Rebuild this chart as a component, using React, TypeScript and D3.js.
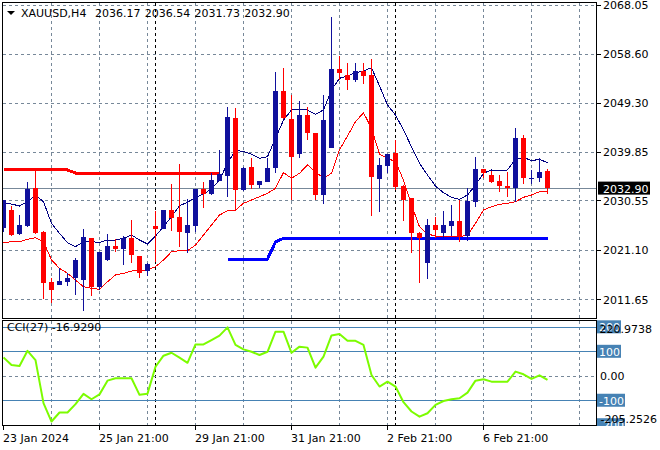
import React from 'react';
import * as d3 from 'd3';

// ---- data (bar index -1 .. 67, H4 bars) ----
const opens = [2025.25, 2028.70, 2024.05, 2025.69, 2032.92, 2024.49, 2014.90, 2014.39, 2014.96, 2015.61, 2015.29, 2023.34, 2014.00, 2019.12, 2021.80, 2021.29, 2023.28, 2019.89, 2017.07, 2025.64, 2025.12, 2028.70, 2027.30, 2024.35, 2025.69, 2032.73, 2031.77, 2034.32, 2035.28, 2046.28, 2032.59, 2036.88, 2033.49, 2034.13, 2036.81, 2051.51, 2046.14, 2039.44, 2046.91, 2043.40, 2031.58, 2040.64, 2055.73, 2054.58, 2053.62, 2055.34, 2054.58, 2034.64, 2037.19, 2039.57, 2033.30, 2031.06, 2024.24, 2018.60, 2025.83, 2024.35, 2025.64, 2026.60, 2023.72, 2030.29, 2036.56, 2035.41, 2034.32, 2033.30, 2032.98, 2042.44, 2034.70, 2034.90, 2036.17];
const highs = [2030.70, 2029.47, 2027.74, 2034.01, 2036.37, 2024.60, 2015.67, 2017.53, 2016.57, 2019.45, 2025.06, 2023.40, 2020.70, 2024.10, 2023.20, 2023.72, 2026.79, 2019.90, 2018.49, 2028.51, 2028.80, 2033.69, 2037.52, 2030.75, 2032.80, 2034.01, 2035.85, 2040.20, 2048.39, 2048.19, 2036.90, 2038.61, 2034.30, 2038.61, 2055.09, 2055.86, 2050.74, 2049.65, 2048.39, 2043.50, 2050.74, 2065.63, 2058.22, 2056.82, 2056.93, 2056.82, 2057.58, 2038.61, 2039.50, 2042.12, 2033.40, 2031.10, 2024.54, 2026.98, 2027.30, 2028.57, 2029.66, 2030.62, 2032.86, 2038.92, 2036.60, 2036.18, 2035.41, 2035.93, 2044.36, 2043.08, 2036.37, 2038.61, 2036.54];
const lows = [2024.54, 2023.72, 2023.91, 2025.50, 2024.20, 2011.59, 2010.88, 2014.30, 2014.19, 2012.41, 2009.40, 2012.28, 2013.37, 2019.00, 2020.71, 2018.16, 2018.60, 2015.73, 2016.05, 2018.79, 2025.00, 2024.68, 2021.55, 2020.40, 2024.54, 2029.03, 2031.60, 2034.20, 2031.25, 2028.70, 2032.40, 2032.73, 2032.86, 2034.00, 2035.85, 2046.20, 2030.62, 2038.73, 2042.12, 2030.62, 2029.85, 2040.50, 2053.62, 2051.70, 2053.29, 2052.85, 2027.61, 2028.38, 2035.85, 2032.54, 2026.65, 2020.40, 2014.65, 2015.42, 2023.39, 2023.40, 2023.72, 2022.63, 2022.82, 2029.34, 2034.78, 2033.94, 2032.21, 2031.14, 2030.29, 2033.69, 2033.69, 2034.13, 2031.73];
const closes = [2030.62, 2023.91, 2025.83, 2032.73, 2024.35, 2014.77, 2013.37, 2015.10, 2015.73, 2019.12, 2023.47, 2014.00, 2020.65, 2021.80, 2021.29, 2023.28, 2020.08, 2016.69, 2018.35, 2025.12, 2028.70, 2027.23, 2024.49, 2025.83, 2032.73, 2031.77, 2034.39, 2035.60, 2046.53, 2032.59, 2036.75, 2033.49, 2034.26, 2036.75, 2051.51, 2046.28, 2038.92, 2046.91, 2043.40, 2031.58, 2045.95, 2055.73, 2054.90, 2053.62, 2055.34, 2054.44, 2035.08, 2037.33, 2039.44, 2033.17, 2030.62, 2024.24, 2023.39, 2025.83, 2024.87, 2025.83, 2026.60, 2023.72, 2030.49, 2036.56, 2035.74, 2034.13, 2033.36, 2032.86, 2042.44, 2034.78, 2034.90, 2036.05, 2032.90];
const fastMA = [2030.10, 2029.85, 2029.47, 2030.29, 2031.58, 2030.29, 2026.15, 2024.24, 2022.44, 2021.67, 2022.63, 2022.63, 2022.51, 2022.95, 2022.95, 2023.28, 2023.91, 2022.95, 2022.19, 2023.72, 2025.50, 2027.42, 2029.53, 2030.18, 2031.14, 2031.77, 2032.73, 2034.45, 2037.65, 2040.20, 2039.88, 2039.43, 2038.61, 2038.92, 2042.44, 2045.95, 2047.87, 2048.06, 2047.87, 2047.04, 2047.87, 2051.70, 2053.94, 2054.38, 2055.02, 2055.34, 2055.97, 2052.47, 2048.83, 2046.91, 2044.03, 2040.83, 2037.65, 2035.41, 2033.30, 2032.02, 2031.14, 2030.75, 2031.58, 2033.49, 2035.74, 2036.37, 2036.18, 2036.37, 2038.42, 2038.80, 2038.15, 2038.42, 2037.77];
const slowMA = [2022.44, 2022.63, 2022.63, 2023.09, 2023.39, 2022.63, 2019.12, 2017.53, 2016.57, 2015.29, 2014.00, 2013.70, 2013.50, 2014.96, 2016.25, 2016.57, 2017.01, 2017.07, 2017.20, 2017.84, 2019.12, 2020.71, 2020.90, 2020.90, 2021.99, 2023.91, 2025.83, 2027.74, 2028.57, 2028.70, 2029.99, 2030.62, 2031.25, 2031.90, 2032.86, 2035.89, 2034.78, 2035.74, 2037.33, 2036.04, 2034.78, 2035.74, 2040.20, 2042.88, 2045.63, 2047.35, 2044.36, 2039.43, 2038.61, 2037.96, 2034.45, 2029.66, 2025.50, 2024.10, 2023.72, 2023.72, 2023.72, 2023.59, 2023.91, 2026.15, 2028.70, 2029.33, 2029.79, 2029.99, 2030.29, 2031.14, 2031.58, 2032.21, 2032.34];
// upper level line: bars -1 .. 26
const upperLevel = [2036.37, 2036.37, 2036.37, 2036.37, 2036.37, 2036.37, 2036.37, 2036.37, 2036.37, 2035.79, 2035.79, 2035.79, 2035.79, 2035.79, 2035.79, 2035.79, 2035.79, 2035.79, 2035.79, 2035.79, 2035.79, 2035.79, 2035.79, 2035.79, 2035.79, 2035.79, 2035.79, 2035.79];
const upperLevelStart = -1;
// lower level line: bars 27 .. 67
const lowerLevel = [2019.31, 2019.31, 2019.31, 2019.31, 2019.31, 2019.31, 2022.57, 2023.28, 2023.28, 2023.28, 2023.28, 2023.28, 2023.28, 2023.28, 2023.28, 2023.28, 2023.28, 2023.28, 2023.28, 2023.28, 2023.28, 2023.28, 2023.28, 2023.28, 2023.28, 2023.28, 2023.28, 2023.28, 2023.28, 2023.28, 2023.28, 2023.28, 2023.28, 2023.28, 2023.28, 2023.28, 2023.28, 2023.28, 2023.28, 2023.28, 2023.28];
const lowerLevelStart = 27;
const cci = [75, 44, 40, 102, 64, -112, -187, -150, -150, -116, -74, -96, -76, -20, -10, -10, -10, -78, -73, 37, 82, 94, 74, 53, 128, 128, 146, 164, 198, 126, 108, 98, 85, 98, 180, 180, 94, 119, 115, 33, 78, 165, 171, 143, 143, 126, 3, -44, -24, -44, -108, -146, -167, -153, -119, -103, -96, -92, -69, -20, -14, -24, -24, -24, 17, 6, -13, 2, -16.929];

const priceTicks = [2068.05, 2058.60, 2049.30, 2039.85, 2030.55, 2021.10, 2011.65];
const priceTickLabels = ['2068.05', '2058.60', '2049.30', '2039.85', '2030.55', '2021.10', '2011.65'];
const lastPrice = 2032.90;
const cciLevels = [200, 100, -100, -200];
const cciMax = 220.9738;
const cciMin = -205.2526;
const xLabels = ['23 Jan 2024', '25 Jan 21:00', '29 Jan 21:00', '31 Jan 21:00', '2 Feb 21:00', '6 Feb 21:00'];
const xLabelBars = [-1, 11, 23, 35, 47, 59];
const separatorBars = [18, 48];
const headerText = ['XAUUSD,H4', '2036.17', '2036.54', '2031.73', '2032.90'];
const cciTitle = 'CCI(27) -16.9290';

const FONT = '"DejaVu Sans", sans-serif';
const BULL = '#10109c';
const BEAR = '#ff0000';
const GRID = '#778899';
const LEVEL = '#4682b4';

export default function App() {
  const firstBar = -1;
  const bars = d3.range(firstBar, firstBar + opens.length);
  const x = d3.scaleLinear().domain([-1, 67]).range([3.5, 547.5]);
  const y = d3.scaleLinear().domain([2008.01, 2068.37]).range([318, 3]);
  const yc = d3.scaleLinear().domain([cciMin, cciMax]).range([426, 321.7]);
  const gridBars = d3.range(5, 73, 6);

  const lineP = d3.line<number>().x((_, i) => x(bars[i])).y((d) => y(d));
  const upperP = d3.line<number>().x((_, i) => x(upperLevelStart + i)).y((d) => y(d));
  const lowerP = d3.line<number>().x((_, i) => x(lowerLevelStart + i)).y((d) => y(d));
  const cciP = d3.line<number>().x((_, i) => x(bars[i])).y((d) => yc(d));

  const crisp = (v: number) => Math.round(v) + 0.5;
  const txt = { fontFamily: FONT, fontSize: 11 } as const;
  const levelLabel = (v: number) => String(v);

  return (
    <svg width={660} height={450} style={{ position: 'absolute', left: 0, top: 0, background: '#fff' }}>
      <defs>
        <clipPath id="mainClip"><rect x={3} y={3} width={593.5} height={315} /></clipPath>
        <clipPath id="cciClip"><rect x={3} y={321} width={593.5} height={104} /></clipPath>
        <clipPath id="cciAxisClip"><rect x={596} y={319} width={64} height={107} /></clipPath>
      </defs>
      <rect x={0} y={0} width={660} height={450} fill="#fff" />

      {/* main grid */}
      <g shapeRendering="crispEdges" clipPath="url(#mainClip)">
        {priceTicks.map((p) => (
          <line key={p} x1={3} x2={597} y1={crisp(y(p))} y2={crisp(y(p))} stroke={GRID} strokeDasharray="3,3" />
        ))}
        {gridBars.map((b) => (
          <line key={b} x1={x(b)} x2={x(b)} y1={3} y2={318} stroke={GRID} strokeDasharray="3,3" />
        ))}
        {separatorBars.map((b) => (
          <line key={b} x1={x(b)} x2={x(b)} y1={3} y2={318} stroke="#000" strokeDasharray="3,3" />
        ))}
        <line x1={3} x2={597} y1={Math.floor(y(lastPrice)) + 0.5} y2={Math.floor(y(lastPrice)) + 0.5} stroke={GRID} />
      </g>

      {/* indicators and candles */}
      <g clipPath="url(#mainClip)">
        <path d={upperP(upperLevel) || ''} fill="none" stroke="#ff0000" strokeWidth={3} shapeRendering="crispEdges" />
        <path d={lowerP(lowerLevel) || ''} fill="none" stroke="#0000ff" strokeWidth={3} shapeRendering="crispEdges" />
        <path d={lineP(slowMA) || ''} fill="none" stroke="#ff0000" strokeWidth={1} shapeRendering="crispEdges" />
        <path d={lineP(fastMA) || ''} fill="none" stroke="#000080" strokeWidth={1} shapeRendering="crispEdges" />
        <g shapeRendering="crispEdges">
          {bars.map((b, i) => {
            const o = opens[i], c = closes[i], h = highs[i], l = lows[i];
            const col = c >= o ? BULL : BEAR;
            const cx = x(b);
            const top = Math.min(y(o), y(c));
            const hgt = Math.max(1, Math.abs(y(o) - y(c)));
            return (
              <g key={b}>
                <line x1={cx} x2={cx} y1={y(h)} y2={y(l)} stroke={col} strokeWidth={1} />
                <rect x={cx - 2.5} y={top} width={5} height={hgt} fill={col} />
              </g>
            );
          })}
        </g>
      </g>

      {/* cci panel */}
      <g shapeRendering="crispEdges" clipPath="url(#cciClip)">
        {gridBars.map((b) => (
          <line key={b} x1={x(b)} x2={x(b)} y1={321} y2={426} stroke={GRID} strokeDasharray="3,3" />
        ))}
        {separatorBars.map((b) => (
          <line key={b} x1={x(b)} x2={x(b)} y1={321} y2={426} stroke="#000" strokeDasharray="3,3" />
        ))}
        <line x1={3} x2={597} y1={crisp(yc(0))} y2={crisp(yc(0))} stroke={GRID} strokeDasharray="3,3" />
        {cciLevels.map((v) => (
          <line key={v} x1={3} x2={597} y1={crisp(yc(v))} y2={crisp(yc(v))} stroke={LEVEL} />
        ))}
      </g>
      <g clipPath="url(#cciClip)">
        <path d={cciP(cci) || ''} fill="none" stroke="#7cfc00" strokeWidth={2} strokeLinejoin="round" />
      </g>

      {/* frames */}
      <g shapeRendering="crispEdges" fill="none" stroke="#000">
        <rect x={2.5} y={2.5} width={594} height={316} />
        <rect x={2.5} y={320.5} width={594} height={105} />
      </g>

      {/* header */}
      <polygon points="7,11 15,11 11,15" fill="#000" />
      <text x={21} y={16.5} style={txt} fill="#000" xmlSpace="preserve">
        {headerText[0]}
        {headerText.slice(1).map((t, i) => (
          <tspan key={i} x={95 + i * 49.75}>{t}</tspan>
        ))}
      </text>
      <text x={7} y={331} style={txt} fill="#000">{cciTitle}</text>

      {/* right price axis */}
      <g shapeRendering="crispEdges">
        {priceTicks.map((p) => (
          <line key={p} x1={597} x2={601} y1={crisp(y(p))} y2={crisp(y(p))} stroke="#000" />
        ))}
      </g>
      {priceTicks.map((p, i) => (
        <text key={p} x={603} y={y(p) + 4.5} style={txt} fill="#000">{priceTickLabels[i]}</text>
      ))}
      <rect x={598} y={y(lastPrice) - 6.5} width={52} height={13} fill="#000" />
      <text x={603} y={y(lastPrice) + 4.5} style={txt} fill="#fff">{lastPrice.toFixed(2)}</text>

      {/* cci axis */}
      <g clipPath="url(#cciAxisClip)">
        {cciLevels.map((v) => {
          const s = levelLabel(v);
          const w = s.replace('-', '').length * 7 + (v < 0 ? 4 : 0) + 3;
          return (
            <g key={v}>
              <rect x={597} y={yc(v) - 6.5} width={w} height={13} fill={LEVEL} />
              <text x={599} y={yc(v) + 4.5} style={txt} fill="#fff">{s}</text>
            </g>
          );
        })}
      </g>
      <text x={600} y={yc(0) + 4} style={txt} fill="#000">0.00</text>
      <text x={599.5} y={yc(cciMax) + 11} style={txt} fill="#000">{cciMax.toFixed(4)}</text>
      <text x={600.5} y={yc(cciMin) - 3} style={txt} fill="#000">{cciMin.toFixed(4)}</text>

      {/* time axis */}
      <g shapeRendering="crispEdges">
        {xLabelBars.map((b) => (
          <line key={b} x1={x(b)} x2={x(b)} y1={426} y2={430} stroke="#000" />
        ))}
      </g>
      {xLabels.map((t, i) => (
        <text key={t} x={x(xLabelBars[i]) - 0.5} y={441.5} style={txt} fill="#000">{t}</text>
      ))}
    </svg>
  );
}
